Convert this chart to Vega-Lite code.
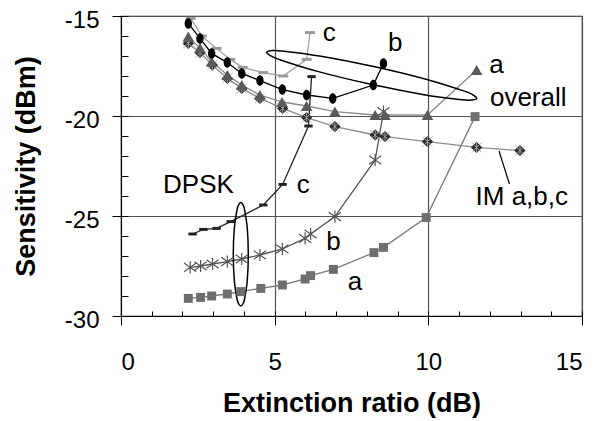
{
  "$schema": "https://vega.github.io/schema/vega-lite/v6.json",
  "width": 461,
  "height": 300,
  "autosize": "none",
  "padding": {"left": 121, "top": 16, "right": 18, "bottom": 105},
  "config": {
    "font": "Liberation Sans",
    "view": {"stroke": "#222", "strokeWidth": 1.2},
    "axis": {"domainColor": "#000", "tickColor": "#000", "labelColor": "#000", "titleColor": "#000", "labelFont": "Liberation Sans", "titleFont": "Liberation Sans"}
  },
  "datasets": {
    "pts": [
      {"s": "Da", "x": 2.19, "y": -29.12}, {"s": "Da", "x": 2.59, "y": -29.07}, {"s": "Da", "x": 2.95, "y": -29.0}, {"s": "Da", "x": 3.46, "y": -28.9}, {"s": "Da", "x": 3.9, "y": -28.78}, {"s": "Da", "x": 4.55, "y": -28.62}, {"s": "Da", "x": 5.25, "y": -28.45}, {"s": "Da", "x": 5.99, "y": -28.15}, {"s": "Da", "x": 6.17, "y": -27.98}, {"s": "Da", "x": 6.91, "y": -27.67}, {"s": "Da", "x": 8.23, "y": -26.83}, {"s": "Da", "x": 8.54, "y": -26.57}, {"s": "Da", "x": 9.93, "y": -25.08}, {"s": "Da", "x": 11.52, "y": -20.03},
      {"s": "Db", "x": 2.25, "y": -27.57}, {"s": "Db", "x": 2.59, "y": -27.5}, {"s": "Db", "x": 2.98, "y": -27.4}, {"s": "Db", "x": 3.46, "y": -27.28}, {"s": "Db", "x": 3.93, "y": -27.15}, {"s": "Db", "x": 4.52, "y": -26.95}, {"s": "Db", "x": 5.25, "y": -26.65}, {"s": "Db", "x": 5.99, "y": -26.12}, {"s": "Db", "x": 6.17, "y": -25.9}, {"s": "Db", "x": 6.96, "y": -25.03}, {"s": "Db", "x": 8.27, "y": -22.2}, {"s": "Db", "x": 8.54, "y": -19.78},
      {"s": "Dc", "x": 2.33, "y": -25.9}, {"s": "Dc", "x": 2.68, "y": -25.67}, {"s": "Dc", "x": 3.11, "y": -25.62}, {"s": "Dc", "x": 3.57, "y": -25.28}, {"s": "Dc", "x": 4.63, "y": -24.45}, {"s": "Dc", "x": 5.26, "y": -23.42}, {"s": "Dc", "x": 6.1, "y": -20.5}, {"s": "Dc", "x": 6.2, "y": -18.03},
      {"s": "Oa", "x": 2.19, "y": -16.03}, {"s": "Oa", "x": 2.57, "y": -16.6}, {"s": "Oa", "x": 2.95, "y": -17.28}, {"s": "Oa", "x": 3.46, "y": -17.95}, {"s": "Oa", "x": 3.93, "y": -18.45}, {"s": "Oa", "x": 4.52, "y": -18.95}, {"s": "Oa", "x": 5.24, "y": -19.3}, {"s": "Oa", "x": 6.04, "y": -19.5}, {"s": "Oa", "x": 6.96, "y": -19.78}, {"s": "Oa", "x": 8.27, "y": -19.95}, {"s": "Oa", "x": 8.59, "y": -19.95}, {"s": "Oa", "x": 9.97, "y": -19.95}, {"s": "Oa", "x": 11.57, "y": -17.7},
      {"s": "Ob", "x": 2.19, "y": -15.37}, {"s": "Ob", "x": 2.57, "y": -16.12}, {"s": "Ob", "x": 2.95, "y": -16.87}, {"s": "Ob", "x": 3.46, "y": -17.33}, {"s": "Ob", "x": 3.93, "y": -17.87}, {"s": "Ob", "x": 4.52, "y": -18.23}, {"s": "Ob", "x": 5.25, "y": -18.68}, {"s": "Ob", "x": 6.04, "y": -18.95}, {"s": "Ob", "x": 6.89, "y": -19.12}, {"s": "Ob", "x": 8.21, "y": -18.45}, {"s": "Ob", "x": 8.54, "y": -17.37},
      {"s": "Oc", "x": 2.27, "y": -15.12}, {"s": "Oc", "x": 2.63, "y": -16.0}, {"s": "Oc", "x": 3.11, "y": -16.62}, {"s": "Oc", "x": 3.55, "y": -17.17}, {"s": "Oc", "x": 3.96, "y": -17.57}, {"s": "Oc", "x": 4.63, "y": -17.83}, {"s": "Oc", "x": 5.28, "y": -18.0}, {"s": "Oc", "x": 6.04, "y": -17.17}, {"s": "Oc", "x": 6.15, "y": -15.83},
      {"s": "IM", "x": 2.19, "y": -16.37}, {"s": "IM", "x": 2.57, "y": -16.83}, {"s": "IM", "x": 2.97, "y": -17.45}, {"s": "IM", "x": 3.46, "y": -18.12}, {"s": "IM", "x": 3.93, "y": -18.62}, {"s": "IM", "x": 4.52, "y": -19.12}, {"s": "IM", "x": 5.26, "y": -19.62}, {"s": "IM", "x": 6.04, "y": -20.08}, {"s": "IM", "x": 6.96, "y": -20.53}, {"s": "IM", "x": 8.27, "y": -20.95}, {"s": "IM", "x": 8.59, "y": -21.03}, {"s": "IM", "x": 9.97, "y": -21.28}, {"s": "IM", "x": 11.57, "y": -21.57}, {"s": "IM", "x": 12.98, "y": -21.73}
    ],
    "ell": [
      {"e": "big", "o": 0, "x": 11.575, "y": -19.12}, {"e": "big", "o": 1, "x": 11.442, "y": -19.195}, {"e": "big", "o": 2, "x": 11.087, "y": -19.185}, {"e": "big", "o": 3, "x": 9.811, "y": -18.92}, {"e": "big", "o": 4, "x": 8.096, "y": -18.405}, {"e": "big", "o": 5, "x": 6.394, "y": -17.77}, {"e": "big", "o": 6, "x": 5.168, "y": -17.185}, {"e": "big", "o": 7, "x": 4.842, "y": -16.965}, {"e": "big", "o": 8, "x": 4.741, "y": -16.81}, {"e": "big", "o": 9, "x": 4.875, "y": -16.735}, {"e": "big", "o": 10, "x": 5.229, "y": -16.745}, {"e": "big", "o": 11, "x": 6.505, "y": -17.0075}, {"e": "big", "o": 12, "x": 8.22, "y": -17.525}, {"e": "big", "o": 13, "x": 9.922, "y": -18.16}, {"e": "big", "o": 14, "x": 11.149, "y": -18.745}, {"e": "big", "o": 15, "x": 11.474, "y": -18.965},
      {"e": "small", "o": 0, "x": 4.142, "y": -26.915}, {"e": "small", "o": 1, "x": 4.109, "y": -25.62}, {"e": "small", "o": 2, "x": 4.02, "y": -24.68}, {"e": "small", "o": 3, "x": 3.961, "y": -24.418}, {"e": "small", "o": 4, "x": 3.898, "y": -24.33}, {"e": "small", "o": 5, "x": 3.835, "y": -24.418}, {"e": "small", "o": 6, "x": 3.776, "y": -24.68}, {"e": "small", "o": 7, "x": 3.687, "y": -25.62}, {"e": "small", "o": 8, "x": 3.654, "y": -26.915}, {"e": "small", "o": 9, "x": 3.687, "y": -28.21}, {"e": "small", "o": 10, "x": 3.776, "y": -29.15}, {"e": "small", "o": 11, "x": 3.835, "y": -29.412}, {"e": "small", "o": 12, "x": 3.898, "y": -29.5}, {"e": "small", "o": 13, "x": 3.961, "y": -29.412}, {"e": "small", "o": 14, "x": 4.02, "y": -29.15}, {"e": "small", "o": 15, "x": 4.109, "y": -28.21}
    ],
    "lead": [
      {"x": 12.3, "y": -21.75}, {"x": 12.64, "y": -23.4}
    ],
    "lab": [
      {"t": "c", "x": 6.78, "y": -15.83}, {"t": "b", "x": 8.92, "y": -16.37}, {"t": "a", "x": 12.22, "y": -17.45}, {"t": "overall", "x": 13.25, "y": -19.12},
      {"t": "DPSK", "x": 2.52, "y": -23.45}, {"t": "c", "x": 5.93, "y": -23.45}, {"t": "b", "x": 6.91, "y": -26.28}, {"t": "a", "x": 7.61, "y": -28.28}, {"t": "IM a,b,c", "x": 13.04, "y": -24.03}
    ]
  },
  "layer": [
    {
      "data": {"name": "pts"},
      "mark": {"type": "point", "opacity": 0},
      "encoding": {
        "x": {"field": "x", "type": "quantitative", "scale": {"domain": [0, 15], "nice": false, "zero": false},
          "axis": {"orient": "bottom", "values": [0, 5, 10, 15], "grid": true, "gridColor": "#555", "gridWidth": 1.2, "tickSize": 9, "labelFontSize": 24, "labelPadding": 25, "labelExpr": "toString(datum.value)", "title": "Extinction ratio (dB)", "titleFontSize": 27, "titleFontWeight": "bold", "titlePadding": 16}},
        "y": {"field": "y", "type": "quantitative", "scale": {"domain": [-30, -15], "nice": false, "zero": false},
          "axis": {"orient": "left", "values": [-30, -25, -20, -15], "grid": true, "gridColor": "#555", "gridWidth": 1.2, "tickSize": 9, "labelFontSize": 24, "labelPadding": 13, "labelOffset": 4, "labelExpr": "toString(datum.value)", "title": "Sensitivity (dBm)", "titleFontSize": 27, "titleFontWeight": "bold", "titlePadding": 24}}
      }
    },
    {
      "data": {"name": "pts"},
      "mark": {"type": "point", "opacity": 0},
      "encoding": {
        "x": {"field": "x", "type": "quantitative",
          "axis": {"orient": "bottom", "values": [0,1,2,3,4,5,6,7,8,9,10,11,12,13,14,15], "labels": false, "domain": false, "grid": false, "title": null, "tickSize": -5}},
        "y": {"field": "y", "type": "quantitative",
          "axis": {"orient": "left", "values": [-30,-29,-28,-27,-26,-25,-24,-23,-22,-21,-20,-19,-18,-17,-16,-15], "labels": false, "domain": false, "grid": false, "title": null, "tickSize": -7}}
      }
    },
    {
      "data": {"name": "pts"},
      "mark": {"type": "line", "strokeWidth": 1.3},
      "encoding": {
        "x": {"field": "x", "type": "quantitative", "axis": null},
        "y": {"field": "y", "type": "quantitative", "axis": null},
        "color": {"field": "s", "type": "nominal", "legend": null, "scale": {"domain": ["Da", "Db", "Dc", "Oa", "Ob", "Oc", "IM"], "range": ["#7a7a7a", "#555555", "#222222", "#8a8a8a", "#000000", "#a3a3a3", "#8c8c8c"]}}
      }
    },
    {
      "data": {"name": "ell"},
      "mark": {"type": "line", "interpolate": "cardinal-closed", "color": "#000", "strokeWidth": 1.5},
      "encoding": {
        "x": {"field": "x", "type": "quantitative", "axis": null},
        "y": {"field": "y", "type": "quantitative", "axis": null},
        "detail": {"field": "e"},
        "order": {"field": "o", "type": "quantitative"}
      }
    },
    {
      "data": {"name": "lead"},
      "mark": {"type": "line", "color": "#000", "strokeWidth": 1.2},
      "encoding": {
        "x": {"field": "x", "type": "quantitative", "axis": null},
        "y": {"field": "y", "type": "quantitative", "axis": null}
      }
    },
    {
      "data": {"name": "pts"},
      "transform": [{"filter": "datum.s === 'Da'"}],
      "mark": {"type": "point", "shape": "square", "filled": true, "size": 80, "color": "#6e6e6e", "opacity": 1},
      "encoding": {
        "x": {"field": "x", "type": "quantitative", "axis": null},
        "y": {"field": "y", "type": "quantitative", "axis": null}
      }
    },
    {
      "data": {"name": "pts"},
      "transform": [{"filter": "datum.s === 'Db'"}],
      "mark": {"type": "point", "shape": "M-1,-0.7L1,0.7M-1,0.7L1,-0.7M0,-1L0,1", "filled": false, "size": 150, "color": "#555", "strokeWidth": 1.2, "opacity": 1},
      "encoding": {
        "x": {"field": "x", "type": "quantitative", "axis": null},
        "y": {"field": "y", "type": "quantitative", "axis": null}
      }
    },
    {
      "data": {"name": "pts"},
      "transform": [{"filter": "datum.s === 'Dc'"}],
      "mark": {"type": "point", "shape": "M-1,-0.35L1,-0.35L1,0.35L-1,0.35Z", "filled": true, "size": 70, "color": "#222", "opacity": 1},
      "encoding": {
        "x": {"field": "x", "type": "quantitative", "axis": null},
        "y": {"field": "y", "type": "quantitative", "axis": null}
      }
    },
    {
      "data": {"name": "pts"},
      "transform": [{"filter": "datum.s === 'IM'"}],
      "mark": {"type": "point", "shape": "diamond", "filled": true, "size": 130, "color": "#2e2e2e", "opacity": 1},
      "encoding": {
        "x": {"field": "x", "type": "quantitative", "axis": null},
        "y": {"field": "y", "type": "quantitative", "axis": null}
      }
    },
    {
      "data": {"name": "pts"},
      "transform": [{"filter": "datum.s === 'IM'"}],
      "mark": {"type": "point", "shape": "M-1,-1L1,1M-1,1L1,-1M0,-1L0,1", "filled": false, "size": 100, "color": "#aaaaaa", "strokeWidth": 0.9, "opacity": 1},
      "encoding": {
        "x": {"field": "x", "type": "quantitative", "axis": null},
        "y": {"field": "y", "type": "quantitative", "axis": null}
      }
    },
    {
      "data": {"name": "pts"},
      "transform": [{"filter": "datum.s === 'Oa'"}],
      "mark": {"type": "point", "shape": "triangle-up", "filled": true, "size": 135, "color": "#5a5a5a", "opacity": 1},
      "encoding": {
        "x": {"field": "x", "type": "quantitative", "axis": null},
        "y": {"field": "y", "type": "quantitative", "axis": null}
      }
    },
    {
      "data": {"name": "pts"},
      "transform": [{"filter": "datum.s === 'Oc'"}],
      "mark": {"type": "point", "shape": "M-1,-0.3L1,-0.3L1,0.3L-1,0.3Z", "filled": true, "size": 100, "color": "#9a9a9a", "opacity": 1},
      "encoding": {
        "x": {"field": "x", "type": "quantitative", "axis": null},
        "y": {"field": "y", "type": "quantitative", "axis": null}
      }
    },
    {
      "data": {"name": "pts"},
      "transform": [{"filter": "datum.s === 'Ob'"}],
      "mark": {"type": "point", "shape": "M-0.7,0A0.7,1,0,1,1,0.7,0A0.7,1,0,1,1,-0.7,0Z", "filled": true, "size": 110, "color": "#000", "opacity": 1},
      "encoding": {
        "x": {"field": "x", "type": "quantitative", "axis": null},
        "y": {"field": "y", "type": "quantitative", "axis": null}
      }
    },
    {
      "data": {"name": "lab"},
      "mark": {"type": "text", "fontSize": 26, "font": "Liberation Sans", "align": "center", "baseline": "middle", "color": "#000"},
      "encoding": {
        "x": {"field": "x", "type": "quantitative", "axis": null},
        "y": {"field": "y", "type": "quantitative", "axis": null},
        "text": {"field": "t"}
      }
    }
  ],
  "resolve": {"axis": {"x": "independent", "y": "independent"}}
}
